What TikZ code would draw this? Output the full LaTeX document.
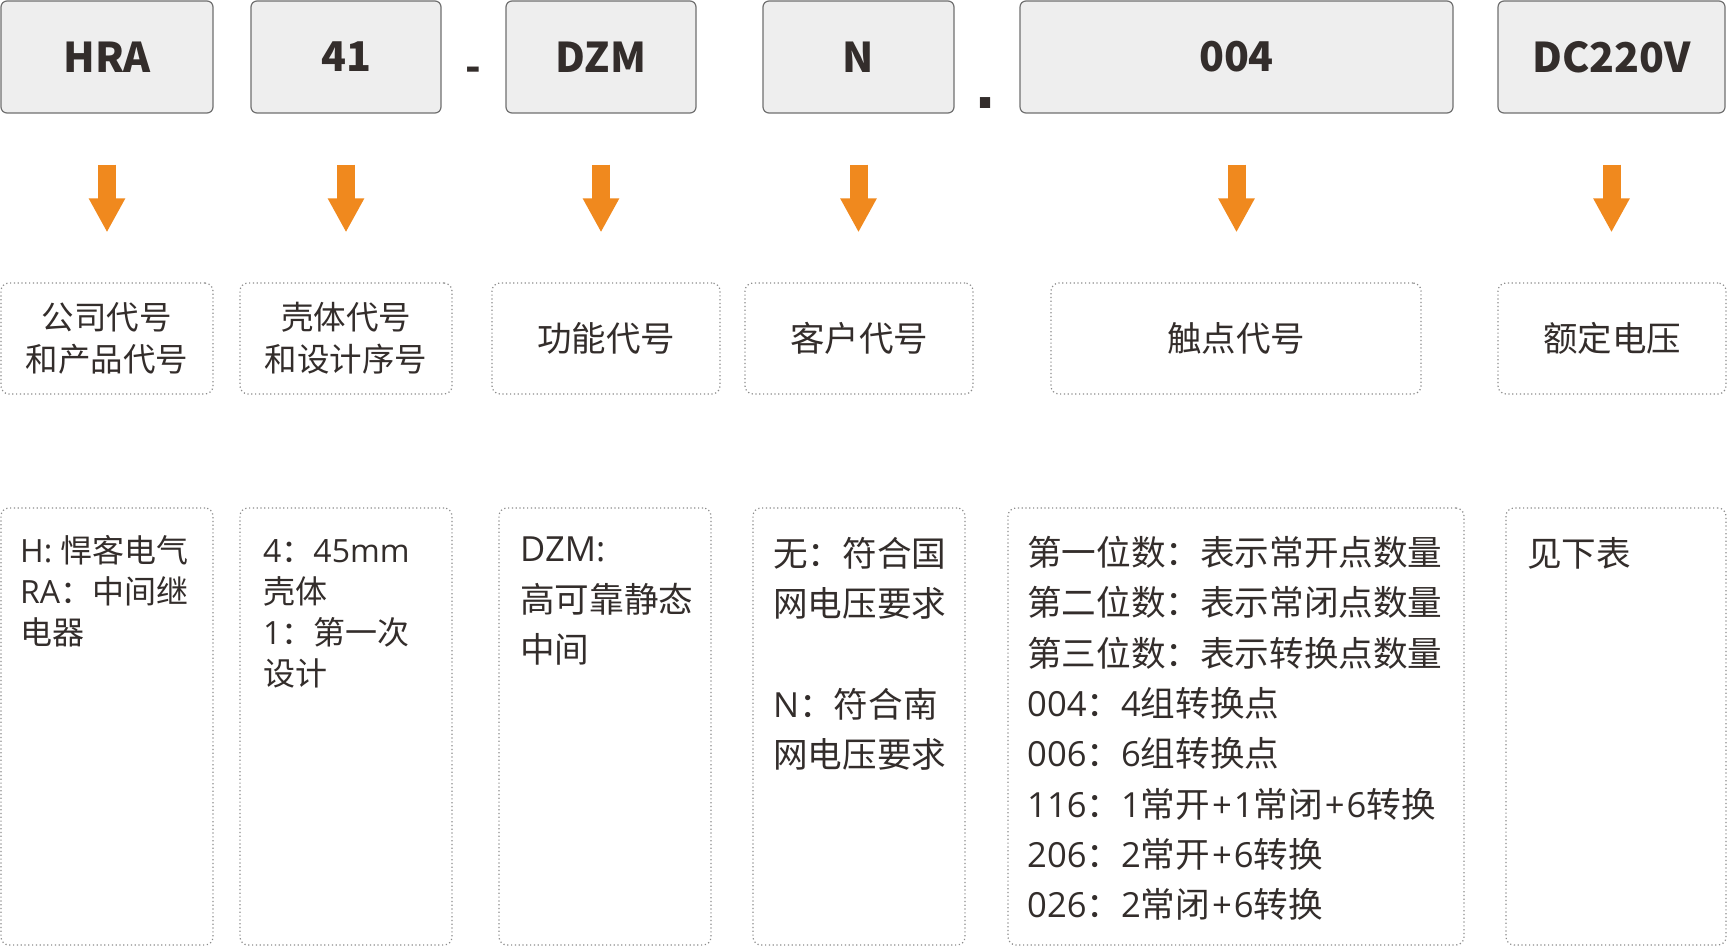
\documentclass[tikz,border=0pt]{standalone}
\usepackage{fontspec}
\setmainfont{Noto Sans CJK SC}
\newfontfamily\latinfont{Open Sans}
\newfontfamily\squarefont{DejaVu Sans}
\usetikzlibrary{arrows.meta}
\definecolor{txt}{RGB}{51,45,43}
\definecolor{org}{RGB}{240,137,30}
\definecolor{topfill}{RGB}{238,238,238}
\definecolor{topline}{RGB}{112,112,112}
\definecolor{dotline}{RGB}{140,140,140}
\newcommand\latn[1]{{\latinfont #1}}
\newcommand\plusg{{\latinfont\kern2pt+\kern2pt}}
\begin{document}
\begin{tikzpicture}[x=1pt,y=-1pt,
 topbox/.style={draw=topline, fill=topfill, line width=1.2pt, rounded corners=6pt, inner sep=0pt, text=txt, font=\fontsize{41pt}{41pt}\selectfont\bfseries},
 sepmark/.style={text=txt, inner sep=0pt, anchor=base, font=\fontsize{41pt}{41pt}\selectfont\bfseries},
 dotbox/.style={draw=dotline, line width=1.2pt, dash pattern=on 1.2pt off 2.6pt, rounded corners=8pt, inner sep=0pt, text=txt, align=center},
 midone/.style={font=\fontsize{34.5pt}{42pt}\selectfont},
 midtwo/.style={font=\fontsize{32.5pt}{42pt}\selectfont},
 bottxt/.style={text=txt, align=left, inner sep=0pt, anchor=north west},
 smalltxt/.style={font=\fontsize{32pt}{41pt}\selectfont},
 bigtxt/.style={font=\fontsize{34.6pt}{50.3pt}\selectfont},
 bigarrow/.style={draw=org, line width=18pt, -{Triangle[width=34pt,length=34pt]}, shorten <=51pt, shorten >=50pt},
]
\useasboundingbox (0,0) rectangle (1727,947);
\fill[white] (0,0) rectangle (1727,947);

% top row
\node[topbox, minimum width=212pt, minimum height=112pt] (t1) at (107,57) {HRA};
\node[topbox, minimum width=190pt, minimum height=112pt] (t2) at (346,57) {41};
\node[topbox, minimum width=190pt, minimum height=112pt] (t3) at (601,57) {DZM};
\node[topbox, minimum width=191pt, minimum height=112pt] (t4) at (858.5,57) {N};
\node[topbox, minimum width=433pt, minimum height=112pt] (t5) at (1236.5,57) {004};
\node[topbox, minimum width=227pt, minimum height=112pt] (t6) at (1611.5,57) {DC220V};
\node[sepmark] (dash) at (473,82) {-};
\node[sepmark, font=\fontsize{58pt}{58pt}\squarefont\bfseries] (dot) at (985.5,109) {.};

% middle row
\node[dotbox, midtwo, minimum width=212pt, minimum height=111pt] (m1) at (107,338.5) {公司代号\\和产品代号};
\node[dotbox, midtwo, minimum width=212pt, minimum height=111pt] (m2) at (346,338.5) {壳体代号\\和设计序号};
\node[dotbox, midone, minimum width=228pt, minimum height=111pt] (m3) at (606,338.5) {功能代号};
\node[dotbox, midone, minimum width=228pt, minimum height=111pt] (m4) at (859,338.5) {客户代号};
\node[dotbox, midone, minimum width=370pt, minimum height=111pt] (m5) at (1236,338.5) {触点代号};
\node[dotbox, midone, minimum width=228pt, minimum height=111pt] (m6) at (1612,338.5) {额定电压};

% arrows
\draw[bigarrow] (t1.south) -- (t1.south |- m1.north);
\draw[bigarrow] (t2.south) -- (t2.south |- m2.north);
\draw[bigarrow] (t3.south) -- (t3.south |- m3.north);
\draw[bigarrow] (t4.south) -- (t4.south |- m4.north);
\draw[bigarrow] (t5.south) -- (t5.south |- m5.north);
\draw[bigarrow] (t6.south) -- (t6.south |- m6.north);

% bottom row
\node[dotbox, minimum width=212pt, minimum height=437pt] (b1) at (107,726.5) {};
\node[dotbox, minimum width=212pt, minimum height=437pt] (b2) at (346,726.5) {};
\node[dotbox, minimum width=212pt, minimum height=437pt] (b3) at (605,726.5) {};
\node[dotbox, minimum width=212pt, minimum height=437pt] (b4) at (859,726.5) {};
\node[dotbox, minimum width=456pt, minimum height=437pt] (b5) at (1236,726.5) {};
\node[dotbox, minimum width=220pt, minimum height=437pt] (b6) at (1616,726.5) {};

\node[bottxt, smalltxt] (b1t) at (20,535) {\latn{H: }悍客电气\\\latn{RA}：中间继\\电器};
\node[bottxt, smalltxt] (b2t) at (263,539) {\latn{4}：\latn{45mm}\\壳体\\\latn{1}：第一次\\设计};
\node[bottxt, bigtxt] (b3t) at (520,537) {\latn{DZM:}\\高可靠静态\\中间};
\node[bottxt, bigtxt] (b4t) at (773,537) {无：符合国\\网电压要求\\[50.3pt]\latn{N}：符合南\\网电压要求};
\node[bottxt, bigtxt] (b5t) at (1027,536) {第一位数：表示常开点数量\\第二位数：表示常闭点数量\\第三位数：表示转换点数量\\\latn{004}：\latn{4}组转换点\\\latn{006}：\latn{6}组转换点\\\latn{116}：\latn{1}常开\plusg\latn{1}常闭\plusg\latn{6}转换\\\latn{206}：\latn{2}常开\plusg\latn{6}转换\\\latn{026}：\latn{2}常闭\plusg\latn{6}转换};
\node[bottxt, bigtxt] (b6t) at (1527,537) {见下表};
\end{tikzpicture}
\end{document}
